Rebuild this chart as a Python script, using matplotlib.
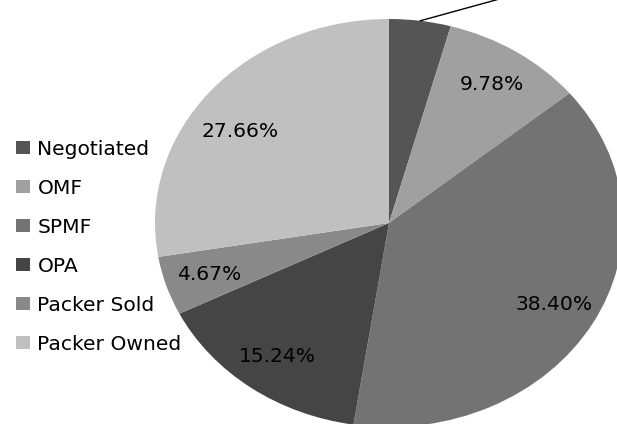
import matplotlib
matplotlib.use("Agg")
import matplotlib.pyplot as plt
import numpy as np

labels = ["Negotiated", "OMF", "SPMF", "OPA", "Packer Sold", "Packer Owned"]
shares = [4.25, 9.78, 38.40, 15.24, 4.67, 27.66]
colors = ["#555555", "#a0a0a0", "#737373", "#454545", "#898989", "#c0c0c0"]

plt.rcParams['font.family'] = ['DejaVu Sans']

fig = plt.figure(figsize=(6.17, 4.24), dpi=100, facecolor='white')
ax = fig.add_axes([0, 0, 1, 1])

# pie is slightly stretched sideways in the original (rx ~234px, ry ~204px)
wedges, texts, autotexts = ax.pie(shares, colors=colors, startangle=90, counterclock=False,
                                  autopct='%.2f%%', pctdistance=0.81,
                                  wedgeprops=dict(linewidth=0),
                                  textprops=dict(fontsize=14.6, color='black'))

# "best fit" label for the big light slice sits a bit off the middle
w = wedges[5]
ang = np.deg2rad((w.theta1 + w.theta2) / 2 + 5)
autotexts[5].set_position((0.78 * np.cos(ang), 0.78 * np.sin(ang)))

# small slice label sits outside with a leader line (runs off the top edge)
autotexts[0].set_visible(False)
w = wedges[0]
ang = np.deg2rad((w.theta1 + w.theta2) / 2)
ax.annotate("4.25%", xy=(np.cos(ang), np.sin(ang)), xytext=(1.08, 1.29),
            arrowprops=dict(arrowstyle='-', color='black', lw=1, relpos=(0, 0.5),
                            shrinkA=0, shrinkB=0),
            fontsize=14.6, ha='left', va='center', annotation_clip=False)

ax.set_aspect('auto')
ax.set_xlim(-389 / 234, (617 - 389) / 234)
ax.set_ylim(-(424 - 223) / 204, 223 / 204)
ax.axis('off')

ax.legend(wedges, labels, loc='upper left', bbox_to_anchor=(0.012, 0.69),
          frameon=False, fontsize=14.6, handlelength=0.7, handleheight=0.6,
          handletextpad=0.38, labelspacing=0.99, borderaxespad=0)

fig.savefig("out.png", dpi=100)
